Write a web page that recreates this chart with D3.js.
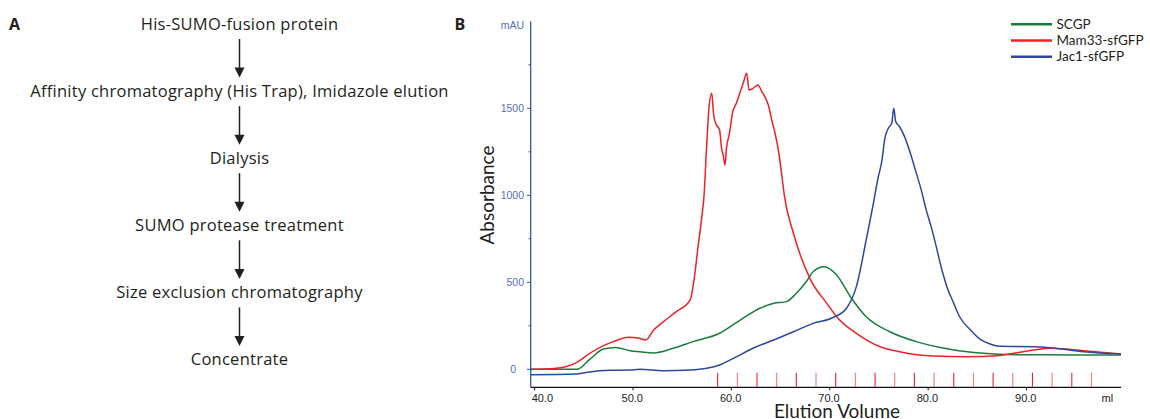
<!DOCTYPE html>
<html>
<head>
<meta charset="utf-8">
<style>
  body { margin: 0; background: #fff; }
  svg { display: block; }
  .step { font-family: "Open Sans", sans-serif; font-size: 16.5px; letter-spacing: 0.25px; fill: #231f20; }
  .panel { font-family: "Open Sans", sans-serif; font-weight: 700; font-size: 16px; fill: #231f20; }
  .tick-y { font-family: "Liberation Sans", Arial, sans-serif; font-size: 10.5px; fill: #5a6ebf; }
  .tick-x { font-family: "Liberation Sans", Arial, sans-serif; font-size: 11px; fill: #222; }
  .title { font-family: Lato, "Open Sans", sans-serif; font-size: 19px; fill: #231f20; }
  .legend { font-family: Lato, "Open Sans", sans-serif; font-size: 13.5px; fill: #231f20; }
</style>
</head>
<body>
<svg id="fig" width="1150" height="419"></svg>
<script src="https://cdn.jsdelivr.net/npm/d3@7"></script>
<script>
// panel A steps
var steps = ["His-SUMO-fusion protein",
  "Affinity chromatography (His Trap), Imidazole elution",
  "Dialysis",
  "SUMO protease treatment",
  "Size exclusion chromatography",
  "Concentrate"];

// panel B: elution volume (ml) and absorbance (mAU)
var scgpVol = [39.6, 42, 44.3, 45.6, 47, 48.2, 49.7, 50.7, 52.1, 54.1, 56.1, 58.8, 60.9, 62.9, 64.3, 65.6, 66.6, 67.6, 68.3, 69.4, 70.7, 72.1, 73.7, 76.1, 78.8, 82.2, 85.6, 89, 92, 95, 99.6];
var scgpAbs = [0, 0, 0, 57, 117, 126, 107, 101, 94, 121, 159, 207, 283, 351, 379, 389, 437, 503, 561, 590, 542, 417, 302, 216, 159, 115, 92, 84, 83, 82, 82];

var mamVol = [39.6, 42, 44.3, 45.6, 47, 48, 49.6, 50.5, 51.3, 52.1, 53.1, 54.4, 55.8, 56.2, 56.6, 57.0, 57.2, 57.5, 57.7, 58.0, 58.2, 58.4, 58.8, 59.0, 59.2, 59.35, 59.5, 59.8, 60.1, 60.5, 60.9, 61.2, 61.55, 61.8, 62.2, 62.7, 63.1, 63.4, 63.75, 64.1, 64.4, 64.8, 65.1, 65.4, 66.3, 68, 69.7, 71.0, 72.7, 75.1, 77.1, 80.5, 83.9, 87.3, 90.7, 92.4, 95.8, 99.6];
var mamAbs = [0, 5, 40, 92, 136, 159, 184, 180, 168, 226, 274, 331, 398, 513, 700, 880, 984, 1300, 1490, 1586, 1461, 1414, 1375, 1270, 1222, 1174, 1270, 1356, 1471, 1529, 1595, 1644, 1701, 1605, 1615, 1634, 1595, 1567, 1519, 1433, 1366, 1251, 1126, 992, 783, 520, 379, 283, 207, 130, 101, 76, 72, 80, 111, 121, 107, 88];

var jacVol = [39.6, 44.3, 45.6, 47.7, 49.7, 50.7, 53.1, 55.8, 57.5, 58.8, 60.2, 62.2, 64.3, 66.3, 68.3, 70.4, 71.7, 72.7, 73.7, 74.4, 74.9, 75.3, 75.6, 75.95, 76.3, 76.5, 76.7, 77.1, 77.6, 78.3, 78.8, 79.3, 79.8, 80.4, 80.9, 81.4, 81.9, 82.6, 83.2, 84.3, 85.3, 86.3, 87.3, 90.7, 92.4, 95.8, 99.6];
var jacAbs = [-31, -27, -15, -6, -4, 0, -8, -4, 6, 25, 63, 121, 168, 216, 264, 299, 351, 475, 743, 944, 1098, 1200, 1328, 1385, 1414, 1500, 1424, 1394, 1337, 1222, 1126, 1030, 916, 800, 686, 571, 475, 379, 302, 226, 172, 145, 132, 130, 124, 101, 88];

var fractions = [58.6, 60.6, 62.6, 64.6, 66.6, 68.6, 70.6, 72.6, 74.6, 76.6, 78.6, 80.6, 82.6, 84.6, 86.6, 88.6, 90.6, 92.6, 94.6, 96.6];

var xTicks = [40, 50, 60, 70, 80, 90];
var yTicks = [0, 500, 1000, 1500];
var yMinor = [250, 750, 1250, 1750];

var series = [
  { name: "SCGP", color: "#1a7d3c", vol: scgpVol, abs: scgpAbs },
  { name: "Mam33-sfGFP", color: "#ec2227", vol: mamVol, abs: mamAbs },
  { name: "Jac1-sfGFP", color: "#2e48a0", vol: jacVol, abs: jacAbs }
];

var svg = d3.select("#fig");

// ---- panel A: flow chart ----
svg.append("text").attr("class", "panel").attr("x", 9).attr("y", 29.5).text("A");

var stepY = d3.scalePoint().domain(d3.range(steps.length)).range([29.5, 365]);
var cx = 239.5;

svg.selectAll(".step").data(steps).enter().append("text")
  .attr("class", "step")
  .attr("x", cx)
  .attr("y", function (d, i) { return stepY(i); })
  .attr("text-anchor", "middle")
  .text(function (d) { return d; });

var arrows = svg.append("g");
d3.range(steps.length - 1).forEach(function (i) {
  var y0 = stepY(i) + 9.5, y1 = stepY(i + 1) - 20;
  arrows.append("line").attr("x1", cx).attr("x2", cx).attr("y1", y0).attr("y2", y1 - 6)
    .attr("stroke", "#231f20").attr("stroke-width", 1.5);
  arrows.append("path")
    .attr("d", "M" + (cx - 5) + "," + (y1 - 9) + "L" + (cx + 5) + "," + (y1 - 9) + "L" + cx + "," + (y1 + 1) + "Z")
    .attr("fill", "#231f20");
});

// ---- panel B: chromatogram ----
svg.append("text").attr("class", "panel").attr("x", 454.5).attr("y", 29.5).text("B");

var x = d3.scaleLinear().domain([39.6, 99.6]).range([530.7, 1121]);
var y = d3.scaleLinear().domain([-100, 2000]).range([386.7, 21.3]);

// fraction marks
svg.append("g").selectAll("line").data(fractions).enter().append("line")
  .attr("x1", function (d) { return x(d); }).attr("x2", function (d) { return x(d); })
  .attr("y1", y(-100) - 14).attr("y2", y(-100))
  .attr("stroke", function (d, i) { return i % 2 ? "#f07a80" : "#e8242c"; })
  .attr("stroke-width", 1.1);

// curves
var line = d3.line()
  .x(function (d) { return x(d[0]); })
  .y(function (d) { return y(d[1]); })
  .curve(d3.curveMonotoneX);

svg.append("g").selectAll("path").data(series).enter().append("path")
  .attr("d", function (s) { return line(d3.zip(s.vol, s.abs)); })
  .attr("fill", "none")
  .attr("stroke", function (s) { return s.color; })
  .attr("stroke-width", 1.5)
  .attr("stroke-linejoin", "round");

// x axis
var xAxis = svg.append("g").attr("transform", "translate(0," + 387.3 + ")");
xAxis.append("line").attr("x1", 530.7).attr("x2", 1121).attr("y1", 0).attr("y2", 0)
  .attr("stroke", "#111").attr("stroke-width", 1.3);
xAxis.selectAll(".xt").data(xTicks).enter().append("line")
  .attr("x1", function (d) { return x(d); }).attr("x2", function (d) { return x(d); })
  .attr("y1", 0).attr("y2", 3).attr("stroke", "#111");
xAxis.selectAll(".tick-x").data(xTicks).enter().append("text")
  .attr("class", "tick-x")
  .attr("x", function (d, i) { return i === 0 ? x(d) - 3 : x(d) - 11.5; })
  .attr("y", 15)
  .text(function (d) { return d3.format(".1f")(d); });
xAxis.append("text").attr("class", "tick-x").attr("x", 1101.5).attr("y", 15).text("ml");

// y axis
var yAxis = svg.append("g");
yAxis.append("line").attr("x1", 530.7).attr("x2", 530.7).attr("y1", y(2000)).attr("y2", 387.3)
  .attr("stroke", "#3550a8").attr("stroke-width", 1.3);
yAxis.selectAll(".ymaj").data(yTicks).enter().append("line")
  .attr("x1", 527).attr("x2", 530.7)
  .attr("y1", function (d) { return y(d); }).attr("y2", function (d) { return y(d); })
  .attr("stroke", "#3550a8");
yAxis.selectAll(".ymin").data(yMinor).enter().append("line")
  .attr("x1", 528.5).attr("x2", 530.7)
  .attr("y1", function (d) { return y(d); }).attr("y2", function (d) { return y(d); })
  .attr("stroke", "#3550a8");
yAxis.selectAll(".tick-y").data(yTicks).enter().append("text")
  .attr("class", "tick-y")
  .attr("x", function (d) { return d === 0 ? 516 : 524; })
  .attr("y", function (d) { return y(d) + 4; })
  .attr("text-anchor", "end")
  .text(function (d) { return d; });
yAxis.append("text").attr("class", "tick-y").attr("x", 524).attr("y", 29)
  .attr("text-anchor", "end").text("mAU");

svg.append("text").attr("class", "title")
  .attr("transform", "translate(494,195) rotate(-90)")
  .attr("text-anchor", "middle").text("Absorbance");
svg.append("text").attr("class", "title")
  .attr("x", 837).attr("y", 418)
  .attr("text-anchor", "middle").text("Elution Volume");

// legend
var legend = svg.append("g");
series.forEach(function (s, i) {
  var ly = 24.3 + i * 16.2;
  legend.append("line").attr("x1", 1011).attr("x2", 1052).attr("y1", ly).attr("y2", ly)
    .attr("stroke", s.color).attr("stroke-width", 2.6);
  legend.append("text").attr("class", "legend").attr("x", 1056.5).attr("y", ly + 4.5).text(s.name);
});
</script>
</body>
</html>
